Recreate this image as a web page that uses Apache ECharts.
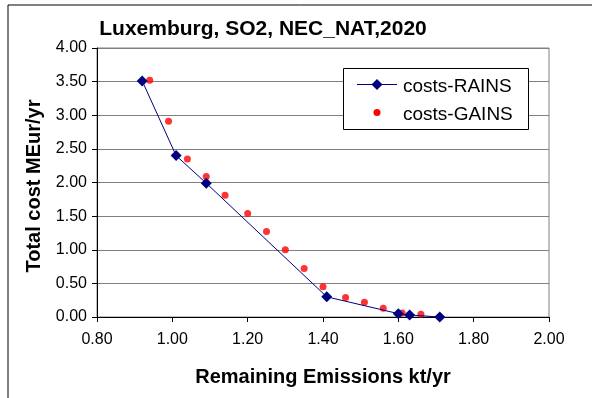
<!DOCTYPE html>
<html>
<head>
<meta charset="utf-8">
<script src="https://cdn.jsdelivr.net/npm/echarts@6/dist/echarts.min.js"></script>
<style>
  html, body { margin: 0; padding: 0; background: #fff; }
  #chart { width: 592px; height: 398px; }
</style>
</head>
<body>
<div id="chart"></div>
<script>
// RAINS cost curve (line with diamonds)
var rainsX = [0.92, 1.01, 1.09, 1.41, 1.60, 1.63, 1.71]
var rainsY = [3.51, 2.40, 1.99, 0.30, 0.05, 0.03, 0.00]
// GAINS cost points (red dots)
var gainsX = [0.94, 0.99, 1.04, 1.09, 1.14, 1.20, 1.25, 1.30, 1.35, 1.40, 1.46, 1.51, 1.56, 1.61, 1.66, 1.71]
var gainsY = [3.52, 2.91, 2.35, 2.09, 1.81, 1.54, 1.27, 1.00, 0.72, 0.45, 0.29, 0.22, 0.13, 0.06, 0.04, 0.00]

var font = 'Liberation Sans, Arial, sans-serif'
var navy = '#000080'
var red = '#ff0000'

function pairs(xs, ys) {
  return xs.map(function (x, i) { return [x, ys[i]] })
}

// legend box drawn by hand (Excel style: line + diamond, plain dot)
var legendBox = [
  {
    type: 'rect',
    z: 10,
    shape: { x: 343.5, y: 68.5, width: 185, height: 61 },
    style: { fill: '#fff', stroke: '#000', lineWidth: 1 }
  },
  {
    type: 'line',
    z: 11,
    shape: { x1: 357, y1: 84.5, x2: 397, y2: 84.5 },
    style: { stroke: navy, lineWidth: 1 }
  },
  {
    type: 'polygon',
    z: 12,
    shape: { points: [[377, 79], [382.5, 84.5], [377, 90], [371.5, 84.5]] },
    style: { fill: navy }
  },
  {
    type: 'text',
    z: 12,
    x: 403,
    y: 86.5,
    style: { text: 'costs-RAINS', font: '19px ' + font, fill: '#000', verticalAlign: 'middle' }
  },
  {
    type: 'circle',
    z: 12,
    shape: { cx: 377, cy: 112.5, r: 3.5 },
    style: { fill: red }
  },
  {
    type: 'text',
    z: 12,
    x: 403,
    y: 115,
    style: { text: 'costs-GAINS', font: '19px ' + font, fill: '#000', verticalAlign: 'middle' }
  }
]

var chart = echarts.init(document.getElementById('chart'))
chart.setOption({
  animation: false,
  textStyle: { fontFamily: font },
  grid: {
    left: 97,
    right: 43,
    top: 48,
    bottom: 81,
    show: true,
    borderColor: '#808080',
    borderWidth: 1
  },
  graphic: [
    {
      type: 'rect',
      shape: { x: 8, y: 5, width: 600, height: 400 },
      style: { fill: 'none', stroke: '#000', lineWidth: 1 },
      silent: true
    },
    {
      type: 'text',
      x: 263,
      y: 29,
      style: {
        text: 'Luxemburg, SO2, NEC_NAT,2020',
        font: 'bold 21px ' + font,
        fill: '#000',
        align: 'center',
        verticalAlign: 'middle'
      }
    },
    {
      // y axis title
      type: 'text',
      x: 34,
      y: 186,
      rotation: Math.PI / 2,
      style: {
        text: 'Total cost MEur/yr',
        font: 'bold 20px ' + font,
        fill: '#000',
        align: 'center',
        verticalAlign: 'middle'
      }
    }
  ].concat(legendBox),
  xAxis: {
    type: 'value',
    min: 0.8,
    max: 2.0,
    interval: 0.2,
    name: 'Remaining Emissions kt/yr',
    nameLocation: 'middle',
    nameGap: 50,
    nameTextStyle: { fontSize: 20, fontWeight: 'bold', color: '#000' },
    axisLine: { lineStyle: { color: '#000' } },
    axisTick: { show: true, length: 5, lineStyle: { color: '#000' } },
    axisLabel: {
      fontSize: 16,
      color: '#000',
      margin: 15,
      formatter: function (v) { return v.toFixed(2) }
    },
    splitLine: { show: false }
  },
  yAxis: {
    type: 'value',
    min: 0,
    max: 4,
    interval: 0.5,
    axisLine: { show: true, lineStyle: { color: '#000' } },
    axisTick: { show: true, length: 5, lineStyle: { color: '#000' } },
    axisLabel: {
      fontSize: 16,
      color: '#000',
      margin: 10,
      formatter: function (v) { return v.toFixed(2) }
    },
    splitLine: { show: true, lineStyle: { color: '#808080', width: 1 } }
  },
  series: [
    {
      name: 'costs-RAINS',
      type: 'line',
      data: pairs(rainsX, rainsY),
      symbol: 'diamond',
      symbolSize: 11,
      color: navy,
      lineStyle: { color: navy, width: 1 },
      itemStyle: { color: navy }
    },
    {
      name: 'costs-GAINS',
      type: 'scatter',
      data: pairs(gainsX, gainsY),
      symbol: 'circle',
      symbolSize: 7,
      color: red,
      itemStyle: { color: red }
    }
  ]
})
</script>
</body>
</html>
